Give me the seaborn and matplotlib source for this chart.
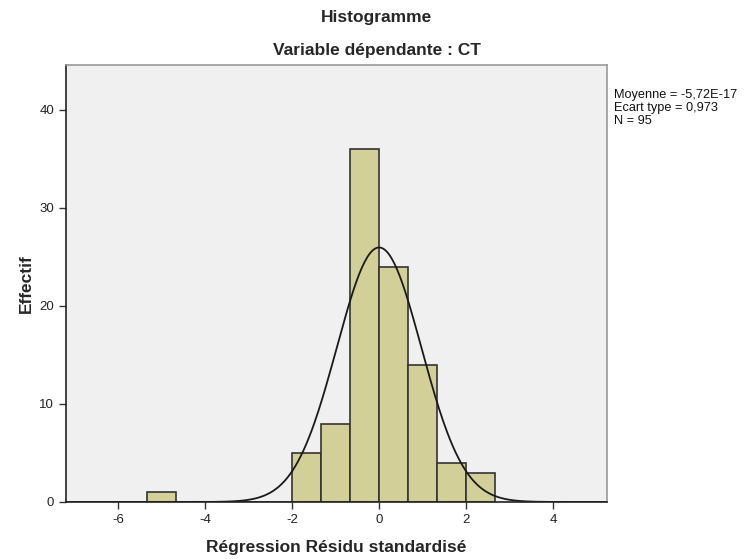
import numpy as np
import matplotlib
matplotlib.use("Agg")
import matplotlib.pyplot as plt
import seaborn as sns

# Résidus standardisés : bornes des classes et effectifs
bin_edges = [-16/3, -14/3, -4, -10/3, -8/3, -2, -4/3, -2/3, 0, 2/3, 4/3, 2, 8/3]
counts = [1, 0, 0, 0, 0, 5, 8, 36, 24, 14, 4, 3]
mean_val = -5.72e-17
std_val = 0.973
n_obs = 95

x_ticks = [-6, -4, -2, 0, 2, 4]
y_ticks = [0, 10, 20, 30, 40]

sns.set_theme(style="white")
plt.rcParams['font.family'] = ['Liberation Sans', 'DejaVu Sans']
plt.rcParams['axes.unicode_minus'] = False

fig = plt.figure(figsize=(7.54, 5.59), dpi=100)
ax = fig.add_axes([0.0875, 0.102, 0.7175, 0.782])
ax.set_facecolor("#F0F0F0")

centers = [(a + b) / 2 for a, b in zip(bin_edges[:-1], bin_edges[1:])]
sns.histplot(x=centers, weights=counts, bins=bin_edges, ax=ax,
             color="#D3CF98", edgecolor="#333333", linewidth=1.2, alpha=1)

# courbe normale
width = bin_edges[1] - bin_edges[0]
xs = np.linspace(-7.2, 5.25, 400)
ys = n_obs * width / (std_val * np.sqrt(2 * np.pi)) * np.exp(-0.5 * ((xs - mean_val) / std_val) ** 2)
sns.lineplot(x=xs, y=ys, ax=ax, color="#1a1a1a", linewidth=1.3)

ax.set_xlim(-7.2, 5.24)
ax.set_ylim(0, 44.6)
ax.set_xticks(x_ticks)
ax.set_yticks(y_ticks)
ax.tick_params(axis="both", direction="out", length=5, width=1, colors="#333333",
               labelsize=9.5, labelcolor="#222222", bottom=True, left=True)
for side in ["left", "bottom"]:
    ax.spines[side].set_color("#222222")
    ax.spines[side].set_linewidth(1.2)
for side in ["top", "right"]:
    ax.spines[side].set_color("#999999")
    ax.spines[side].set_linewidth(1.2)

ax.set_xlabel("Régression Résidu standardisé", fontsize=12.5, fontweight="bold", labelpad=10)
ax.set_ylabel("Effectif", fontsize=12.5, fontweight="bold", labelpad=4)

fig.text(0.5, 0.968, "Histogramme", ha="center", va="center", fontsize=12.5, fontweight="bold")
fig.text(0.5, 0.91, "Variable dépendante : CT", ha="center", va="center", fontsize=12.5, fontweight="bold")

fig.text(0.814, 0.84, "Moyenne = -5,72E-17\nEcart type = 0,973\nN = 95",
         ha="left", va="top", fontsize=9.2, linespacing=1.08, color="#111111")

fig.savefig("out.png", dpi=100)
